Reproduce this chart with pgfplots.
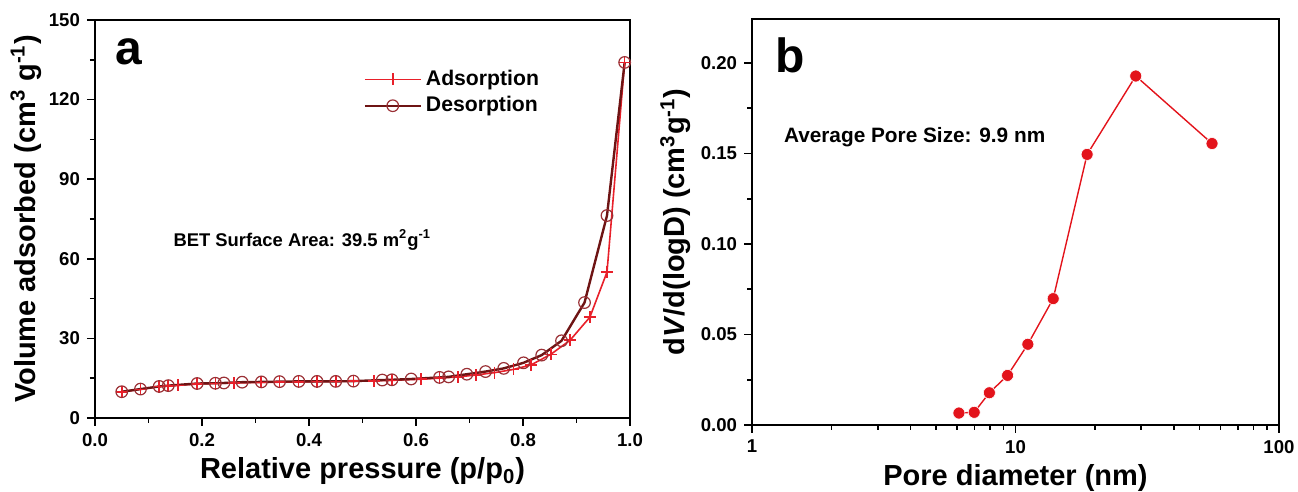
\documentclass[border=0pt]{standalone}
\usepackage{fontspec}
\setmainfont{Liberation Sans}
\usepackage{pgfplots}
\pgfplotsset{compat=1.18}
\definecolor{adsred}{HTML}{E8202A}
\definecolor{desred}{HTML}{6E1414}
\definecolor{desmark}{HTML}{9A3035}
\definecolor{psdred}{HTML}{E3131B}
\pgfplotsset{
  panel/.style={
    scale only axis,
    axis line style={black, line width=1pt},
    tick pos=left,
    tick align=outside,
    major tick length=4pt,
    minor tick length=2.5pt,
    tick style={black, line width=0.8pt},
    /pgf/number format/assume math mode=true,
    tick label style={font=\fontsize{9.3}{10}\selectfont\bfseries},
    label style={font=\fontsize{14.5}{16}\selectfont\bfseries},
    clip=false,
  }
}

\begin{document}
\begin{tikzpicture}
\useasboundingbox (0,0) rectangle (649pt,246pt);

% panel a
\begin{axis}[
  panel,
  at={(47.5pt,37pt)}, anchor=south west,
  width=267.5pt, height=199pt,
  xmin=0, xmax=1, ymin=0, ymax=150,
  xtick={0,0.2,...,1.0}, minor x tick num=1,
  ytick={0,30,...,150}, minor y tick num=1,
  xticklabel style={/pgf/number format/.cd, fixed, fixed zerofill, precision=1},
  xlabel={Relative pressure (p/p\textsubscript{0})},
  ylabel={Volume adsorbed (cm\textsuperscript{3} g\textsuperscript{-1})},
  xlabel style={yshift=1pt},
  ylabel style={yshift=-3pt},
  legend style={at={(0.49,0.895)}, anchor=north west, draw=none, fill=none,
    font=\fontsize{10.6}{12}\selectfont\bfseries, row sep=0pt},
  legend cell align=left,
  legend image code/.code={\draw[mark repeat=2,mark phase=2] plot coordinates {(0pt,0pt) (14pt,0pt) (28pt,0pt)};},
]
\addplot[adsred, line width=0.8pt, mark=+, mark size=3pt] coordinates {
  (0.050,9.8) (0.085,10.8) (0.120,11.8) (0.137,12.1) (0.155,12.3)
  (0.191,12.8) (0.225,13.0) (0.260,13.2) (0.310,13.4) (0.345,13.5)
  (0.380,13.6) (0.415,13.7) (0.450,13.8) (0.483,13.9) (0.522,14.0)
  (0.555,14.2) (0.609,14.6) (0.644,15.0) (0.679,15.5) (0.712,16.2)
  (0.747,17.1) (0.782,18.3) (0.815,20.0) (0.852,24.0) (0.888,29.3)
  (0.925,38.0) (0.957,55.0) (0.990,134)
};
\addlegendentry{Adsorption}
\addplot[desred, line width=1.2pt, mark=o, mark size=2.9pt,
  mark options={desmark, line width=0.6pt}] coordinates {
  (0.990,134) (0.957,76.3) (0.915,43.5) (0.872,29.1) (0.835,23.7)
  (0.801,20.8) (0.764,18.7) (0.730,17.5) (0.695,16.5) (0.661,15.5)
  (0.644,15.3) (0.591,14.7) (0.555,14.4) (0.537,14.3) (0.483,13.9)
  (0.450,13.8) (0.415,13.8) (0.381,13.8) (0.345,13.7) (0.311,13.6)
  (0.275,13.5) (0.241,13.2) (0.225,13.1) (0.191,13.0) (0.137,12.2)
  (0.120,11.9) (0.085,10.9) (0.050,9.9)
};
\addlegendentry{Desorption}
\node[anchor=base west, inner sep=0pt, font=\fontsize{24}{26}\selectfont\bfseries]
  at (rel axis cs:0.037,0.887) {a};
\node[anchor=west, inner sep=0pt, font=\fontsize{9.2}{10}\selectfont\bfseries]
  at (rel axis cs:0.146,0.447) {BET Surface Area: 39.5 m\textsuperscript{2}g\textsuperscript{-1}};
\end{axis}

% panel b
\begin{axis}[
  panel,
  at={(376pt,33.5pt)}, anchor=south west,
  width=263.5pt, height=203pt,
  xmode=log, xmin=1, xmax=100, ymin=0, ymax=0.2243,
  xtick={1,10,100}, xticklabels={1,10,100},
  ytick={0,0.05,...,0.2}, minor y tick num=1,
  yticklabel style={/pgf/number format/.cd, fixed, fixed zerofill, precision=2},
  xlabel={Pore diameter (nm)},
  ylabel={d\textit{V}/d(logD) (cm\textsuperscript{3}g\textsuperscript{-1})},
  xlabel style={yshift=1pt},
  ylabel style={yshift=-2pt},
]
\addplot[psdred, line width=0.7pt, mark=*, mark size=3pt,
  mark options={fill=psdred, draw=white, line width=0.3pt}] coordinates {
  (6.1,0.0066) (6.97,0.0070) (7.96,0.0178) (9.33,0.0274) (11.14,0.0446)
  (13.9,0.0698) (18.7,0.1495) (28.6,0.1928) (55.7,0.1555)
};
\node[anchor=base west, inner sep=0pt, font=\fontsize{24}{26}\selectfont\bfseries]
  at (rel axis cs:0.043,0.869) {b};
\node[anchor=west, inner sep=0pt, font=\fontsize{10.4}{12}\selectfont\bfseries]
  at (rel axis cs:0.06,0.71) {Average Pore Size: 9.9 nm};
\end{axis}
\end{tikzpicture}
\end{document}
